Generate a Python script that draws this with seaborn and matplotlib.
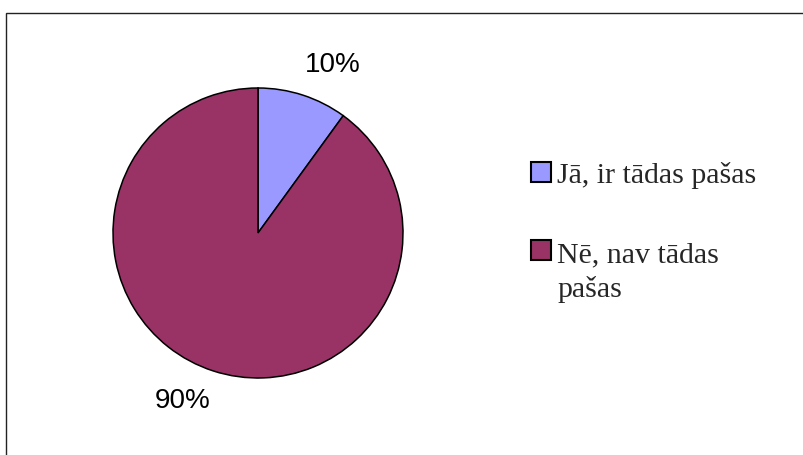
import matplotlib.pyplot as plt
import numpy as np
import seaborn as sns
from matplotlib.patches import Rectangle

# data
labels = ["Jā, ir tādas pašas", "Nē, nav tādas\npašas"]
shares = [10, 90]
colors = ["#9999FF", "#993366"]

sns.set_style("white")
plt.rcParams["font.family"] = ["Liberation Sans", "DejaVu Sans"]

W, H = 804, 455
fig = plt.figure(figsize=(W / 100, H / 100), dpi=100)
fig.patch.set_facecolor("white")

# outer chart frame (right/bottom run off the picture)
fig.patches.append(
    Rectangle((6.5 / W, -0.1), 1.2, (H - 12.5) / H + 0.1,
              transform=fig.transFigure, fill=False, lw=1.0, ec="#222222")
)

# pie axes: centre (258, 233), radius 145 px
cx, cy, r = 258, 233, 145
ax = fig.add_axes([(cx - r) / W, (H - cy - r) / H, 2 * r / W, 2 * r / H])
wedges, texts, autotexts = ax.pie(
    shares,
    colors=colors,
    startangle=90,
    counterclock=False,
    radius=1,
    autopct="%1.0f%%",
    pctdistance=1.27,
    wedgeprops={"edgecolor": "black", "linewidth": 1.1},
    textprops={"fontsize": 20, "color": "black"},
)
ax.set_xlim(-1, 1)
ax.set_ylim(-1, 1)
ax.set_aspect("equal")

# Excel puts the labels slightly clockwise of the wedge middle
for w, t in zip(wedges, autotexts):
    mid = np.deg2rad((w.theta1 + w.theta2) / 2 - 6)
    t.set_position((1.27 * np.cos(mid), 1.27 * np.sin(mid)))
    t.set_ha("center")
    t.set_va("center")

# legend drawn by hand (Times-like text, square markers)
serif = ["Liberation Serif", "DejaVu Serif"]
first_baselines = [183, 261]
pitch = 36
for lab, col, y in zip(labels, colors, first_baselines):
    fig.patches.append(
        Rectangle((531 / W, (H - y + 1) / H), 20 / W, 20 / H,
                  transform=fig.transFigure, fc=col, ec="black", lw=1.5)
    )
    # matplotlib puts the last line on the baseline, so shift down
    y_last = y + pitch * lab.count("\n")
    fig.text(557 / W, (H - y_last) / H, lab, family=serif, fontsize=21.5,
             va="baseline", ha="left", linespacing=1.35)

fig.savefig("out.png", dpi=100)
